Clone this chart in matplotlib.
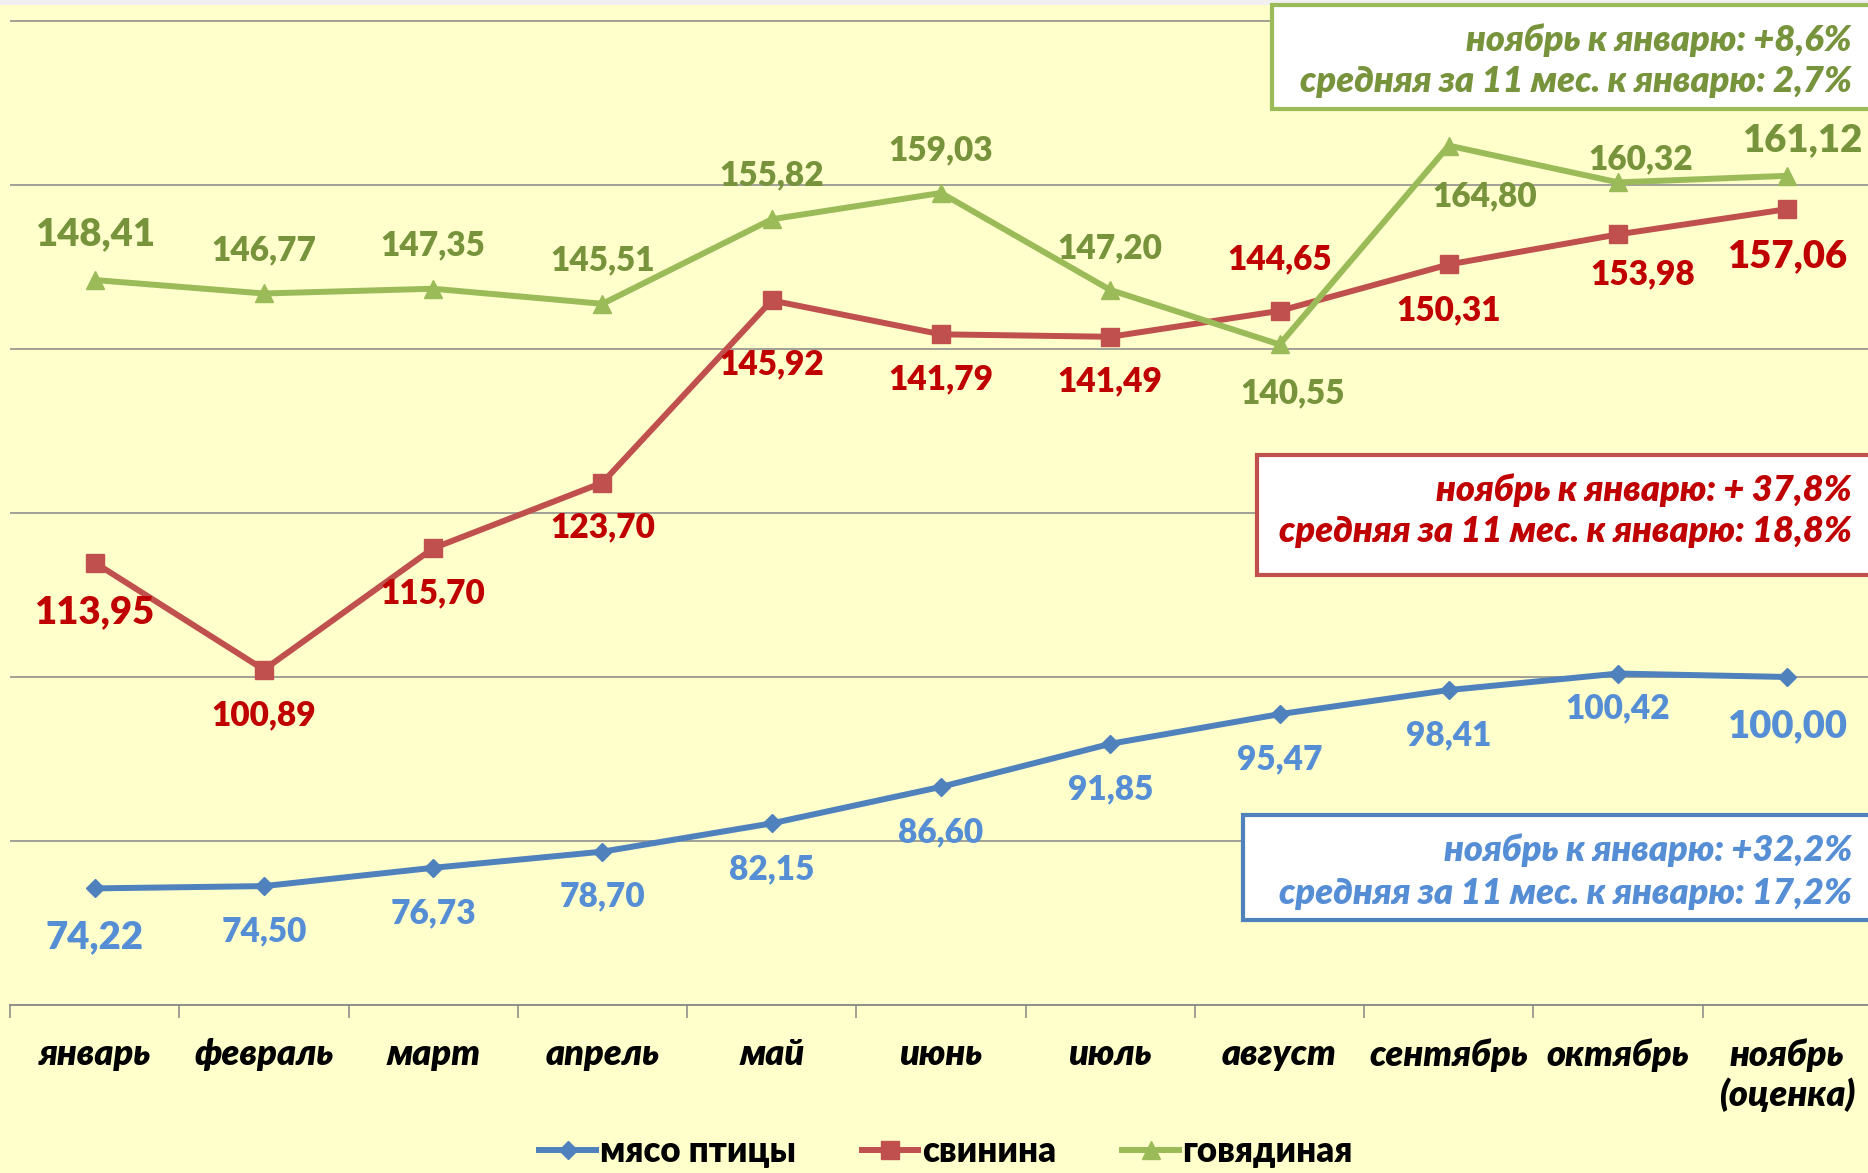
import numpy as np
import matplotlib
matplotlib.use('Agg')
import matplotlib.pyplot as plt
from matplotlib.patches import Rectangle
from matplotlib.lines import Line2D

plt.rcParams['font.family'] = ['Lato', 'DejaVu Sans']

# ---------------- data ----------------
months = ['январь', 'февраль', 'март', 'апрель', 'май', 'июнь', 'июль',
          'август', 'сентябрь', 'октябрь', 'ноябрь\n(оценка)']
poultry = [74.22, 74.50, 76.73, 78.70, 82.15, 86.60, 91.85, 95.47, 98.41, 100.42, 100.00]
pork = [113.95, 100.89, 115.70, 123.70, 145.92, 141.79, 141.49, 144.65, 150.31, 153.98, 157.06]
beef = [148.41, 146.77, 147.35, 145.51, 155.82, 159.03, 147.20, 140.55, 164.80, 160.32, 161.12]
series_names = ['мясо птицы', 'свинина', 'говядиная']

beef_box = ['ноябрь к январю: +8,6%', 'средняя за 11 мес. к январю: 2,7%']
pork_box = ['ноябрь к январю: + 37,8%', 'средняя за 11 мес. к январю: 18,8%']
poultry_box = ['ноябрь к январю: +32,2%', 'средняя за 11 мес. к январю: 17,2%']

# label offsets in pixels (dx, dy downward)
poultry_off = [(0, 49), (0, 45), (0, 46), (0, 45), (0, 46), (0, 45), (0, 46), (0, 45), (0, 45), (0, 35), (0, 49)]
pork_off = [(0, 50), (0, 46), (0, 45), (0, 45), (0, 64), (0, 45), (0, 45), (0, -52), (0, 46), (25, 40), (0, 47)]
beef_off = [(0, -46), (0, -43), (0, -43), (0, -43), (0, -44), (0, -43), (0, -42), (13, 49), (36, 51), (23, -23), (15, -36)]

W, H = 1868, 1173
BG = '#FFFFCC'
GRID = '#868686'
WT = 800

fig = plt.figure(figsize=(W / 100, H / 100), dpi=100, facecolor=BG)
ax = fig.add_axes([10 / W, 168 / H, 1862 / W, 1 - 168 / H])
ax.set_facecolor(BG)
ax.set_xlim(-0.5, 10.5)
ax.set_ylim(60, 60 + 1005 / 8.2)

for s in ['left', 'right', 'top']:
    ax.spines[s].set_visible(False)
ax.spines['bottom'].set_color(GRID)
ax.spines['bottom'].set_linewidth(1.3)

ax.set_yticks([80, 100, 120, 140, 160, 180])
ax.yaxis.grid(True, color=GRID, linewidth=1.1)
ax.tick_params(axis='y', length=0, labelleft=False)
ax.set_axisbelow(True)

x = np.arange(len(months))
ax.set_xticks(x)
ax.set_xticklabels(months, fontsize=26, fontweight=WT, fontstyle='italic',
                   linespacing=1.2)
ax.set_xticks(np.arange(-0.5, 11, 1), minor=True)
ax.tick_params(axis='x', which='major', length=0, pad=24)
ax.tick_params(axis='x', which='minor', length=9, width=1.1, color=GRID, direction='out')

specs = [
    (poultry, '#4F81BD', 'D', 9.5, '#558ED5', poultry_off),
    (pork, '#C0504D', 's', 13, '#C00000', pork_off),
    (beef, '#9BBB59', '^', 13, '#77933C', beef_off),
]
handles = []
for vals, col, mk, ms, lcol, offs in specs:
    ax.plot(x, vals, color=col, lw=4.3, marker=mk, ms=ms, mfc=col, mec=col,
            clip_on=False, zorder=3)
    handles.append(Line2D([], [], color=col, lw=4.3, marker=mk, ms=ms, mfc=col, mec=col))
    n = len(vals)
    for i, v in enumerate(vals):
        dx, dy = offs[i]
        big = (i == 0 or i == n - 1)
        ax.annotate(f'{v:.2f}'.replace('.', ','), (x[i], v),
                    xytext=(dx, -dy), textcoords='offset pixels',
                    ha='center', va='center', color=lcol,
                    fontsize=27.5 if big else 24, fontweight=WT, zorder=4)

# annotation boxes
def add_box(left, top, bottom, edge, tcol, lines, ys):
    r = Rectangle((left / W, 1 - bottom / H), (W + 20 - left) / W, (bottom - top) / H,
                  transform=fig.transFigure, facecolor='white', edgecolor=edge,
                  linewidth=3, zorder=5)
    fig.add_artist(r)
    for t, yc in zip(lines, ys):
        fig.text(1852 / W, 1 - yc / H, t, ha='right', va='center', color=tcol,
                 fontsize=26, fontweight=WT, fontstyle='italic', zorder=6)

add_box(1272, 5, 109, '#9BBB59', '#77933C', beef_box, [40, 82])
add_box(1257, 455, 575, '#C0504D', '#C00000', pork_box, [490, 532])
add_box(1243, 815, 920, '#4F81BD', '#558ED5', poultry_box, [850, 893])

# top grey strip (cropped edge of original)
fig.add_artist(Rectangle((0, 1 - 5 / H), 1, 5 / H, transform=fig.transFigure,
                         facecolor='#F0F0F0', edgecolor='none', zorder=4))

fig.legend(handles, series_names, loc='center', bbox_to_anchor=(946 / W, 1 - 1152 / H),
           ncol=3, frameon=False, prop={'weight': WT, 'size': 25},
           handlelength=1.64, handletextpad=0.1, columnspacing=1.9,
           borderpad=0, borderaxespad=0)

fig.savefig('out.png', dpi=100, facecolor=BG)
